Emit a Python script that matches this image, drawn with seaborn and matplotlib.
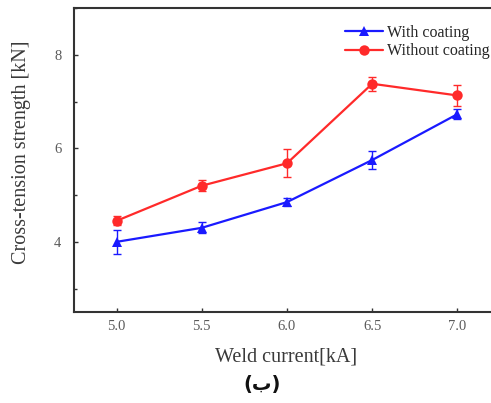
import numpy as np
import pandas as pd
import matplotlib
matplotlib.use('Agg')
import matplotlib.pyplot as plt
import seaborn as sns
from matplotlib.ticker import MultipleLocator

# Data.
current = [5.0, 5.5, 6.0, 6.5, 7.0]
with_coating = [4.0, 4.3, 4.85, 5.75, 6.73]
with_err = [0.25, 0.12, 0.08, 0.2, 0.1]
without_coating = [4.45, 5.2, 5.68, 7.38, 7.13]
without_err = [0.1, 0.12, 0.3, 0.15, 0.22]
labels = ['With coating', 'Without coating']

sns.set_style('ticks')
plt.rcParams['font.family'] = ['Liberation Serif', 'DejaVu Sans']

fig = plt.figure(figsize=(4.91, 4.03), dpi=100)
# axes runs a little past the right edge, as in the reference crop
ax = fig.add_axes([74 / 491, 1 - 312 / 403, 426 / 491, 304 / 403])

df = pd.DataFrame({
    'current': current * 2,
    'strength': with_coating + without_coating,
    'series': [labels[0]] * 5 + [labels[1]] * 5,
})
sns.lineplot(data=df, x='current', y='strength', hue='series', style='series',
             palette={labels[0]: '#1a1aff', labels[1]: '#ff2a2a'},
             markers={labels[0]: '^', labels[1]: 'o'}, dashes=False,
             markersize=7.5, markeredgewidth=0, linewidth=1.6, ax=ax)

# error bars
ax.errorbar(current, with_coating, yerr=with_err, fmt='none', ecolor='#1a1aff', elinewidth=1, capsize=3)
ax.errorbar(current, without_coating, yerr=without_err, fmt='none', ecolor='#ff2a2a', elinewidth=1, capsize=3)

ax.set_xlim(4.75, 7.25)
ax.set_ylim(2.5, 9.0)
ax.set_xticks(current)
ax.set_xticklabels(['5.0', '5.5', '6.0', '6.5', '7.0'])
ax.yaxis.set_major_locator(MultipleLocator(2))
ax.yaxis.set_minor_locator(MultipleLocator(1))
ax.tick_params(axis='both', direction='in', labelsize=10.5, length=3, width=1, colors='#333333', labelcolor='#5a5a5a')
ax.tick_params(axis='x', pad=6)
ax.tick_params(axis='y', pad=9)
ax.tick_params(axis='y', which='minor', direction='in', length=2, width=1, colors='#333333')
for s in ax.spines.values():
    s.set_linewidth(1.5)
    s.set_color('#333333')

ax.set_xlabel('Weld current[kA]', fontsize=14.5, color='#3a3a3a')
ax.set_ylabel('Cross-tension strength [kN]', fontsize=14.5, color='#3a3a3a')
ax.xaxis.set_label_coords((286 - 74) / 426, -(357 - 312) / 304)
ax.yaxis.set_label_coords(-(74 - 22) / 426, (312 - 152) / 304)
ax.xaxis.label.set_va('center')
ax.yaxis.label.set_va('center')

ax.legend(loc='upper left', bbox_to_anchor=(345 / 491, 1 - 25 / 403), bbox_transform=fig.transFigure,
          frameon=False, fontsize=11.5, handlelength=2.4, handletextpad=0.2, labelspacing=0.15,
          borderaxespad=0, borderpad=0)

fig.text(0.534, 0.045, '(ب)', ha='center', va='center', fontsize=14, fontweight='bold',
         family=['DejaVu Sans'], color='#111111')

fig.savefig('out.png', dpi=100)
